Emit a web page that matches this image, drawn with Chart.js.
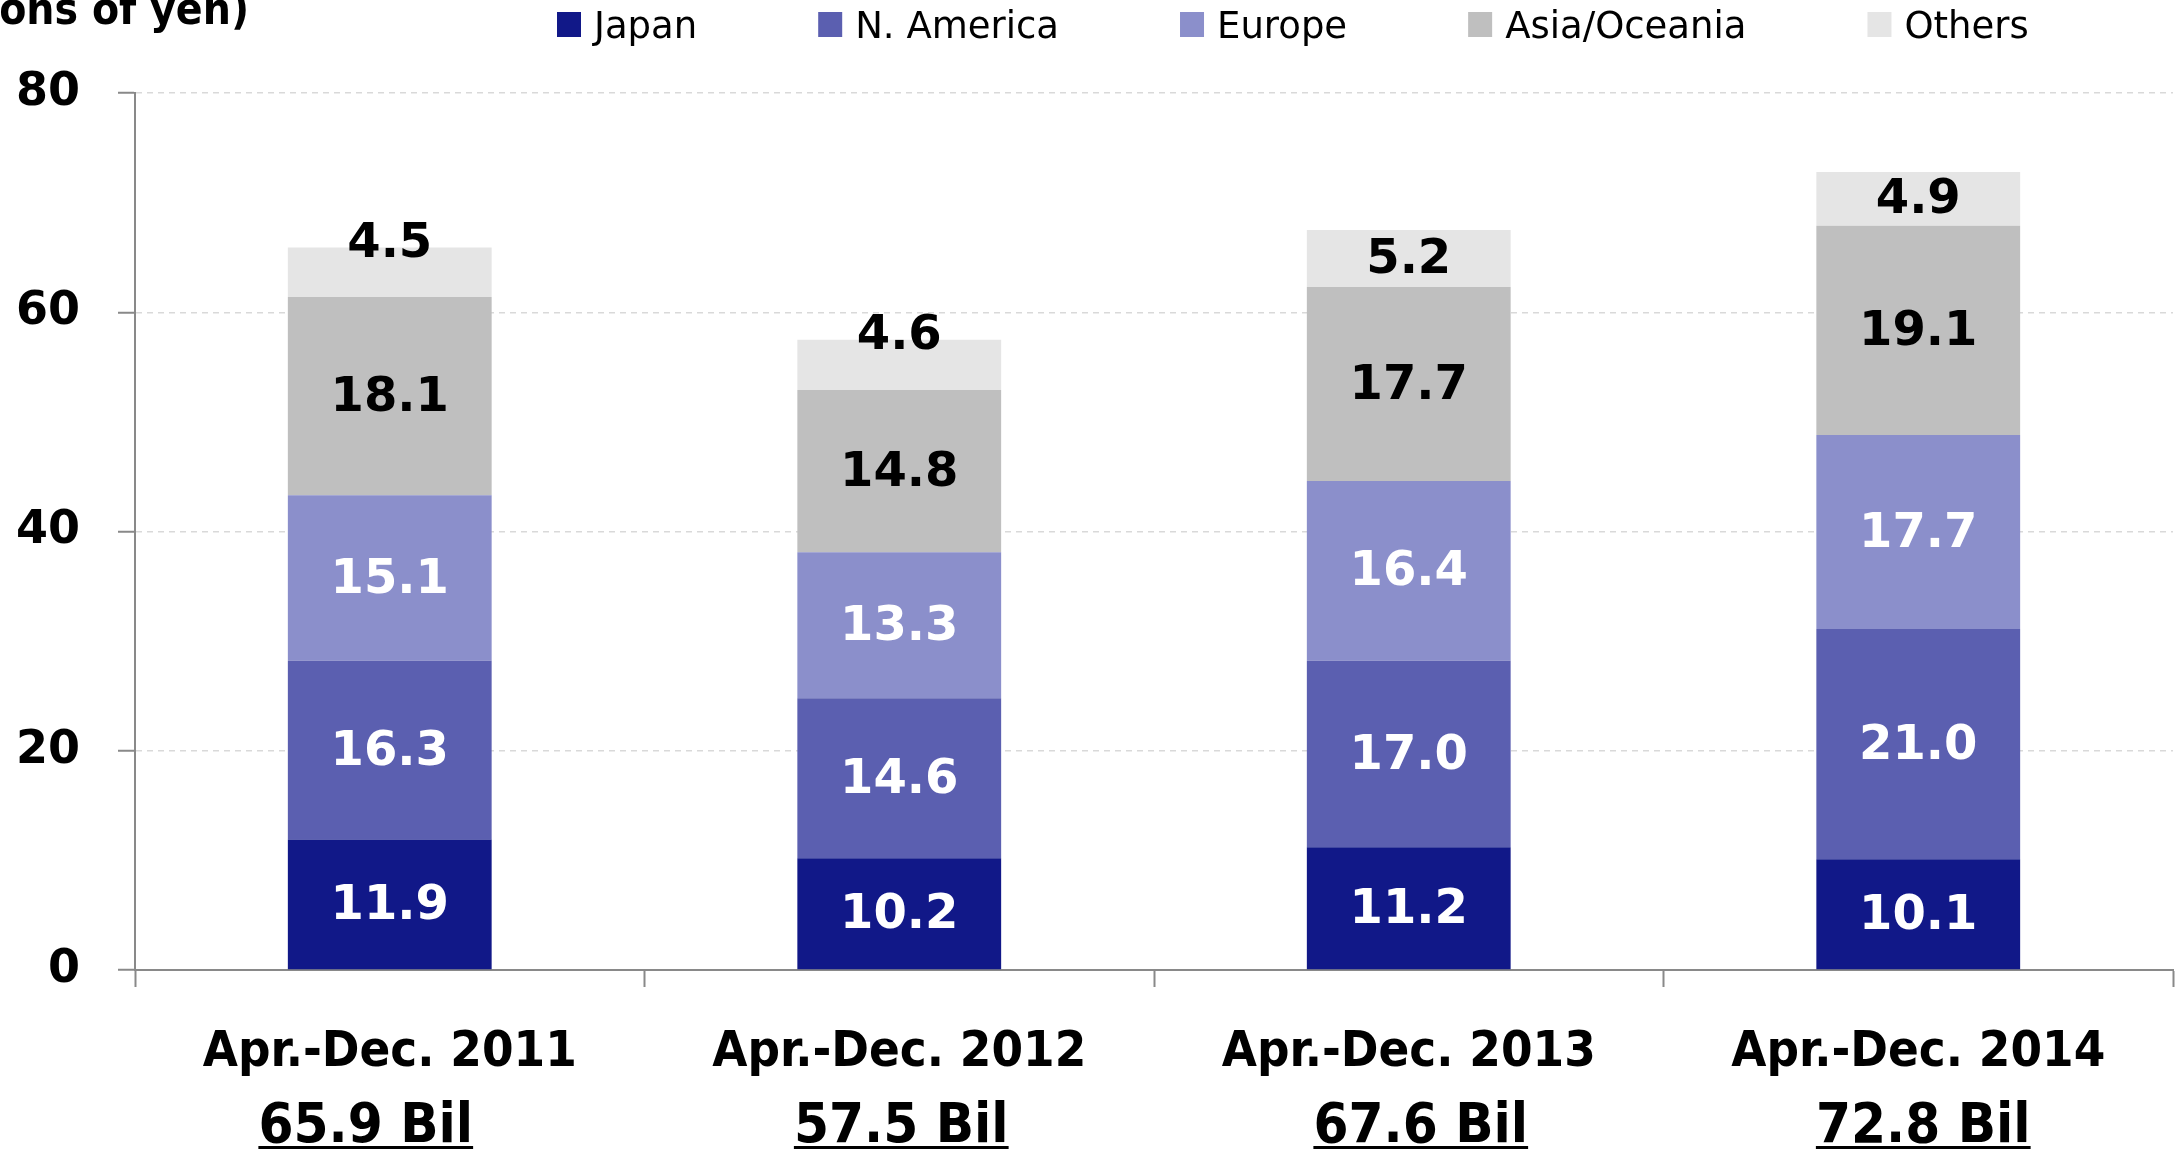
<!DOCTYPE html>
<html>
<head>
<meta charset="utf-8">
<script src="https://cdn.jsdelivr.net/npm/chart.js@4.4.1/dist/chart.umd.min.js"></script>
<style>
  html, body { margin: 0; padding: 0; background: #fff; }
</style>
</head>
<body>
<canvas id="myChart" width="2183" height="1151"></canvas>
<script>
var periods = ["Apr.-Dec. 2011", "Apr.-Dec. 2012", "Apr.-Dec. 2013", "Apr.-Dec. 2014"];
var totals = [65.9, 57.5, 67.6, 72.8];
var regions = ["Japan", "N. America", "Europe", "Asia/Oceania", "Others"];
var japan = [11.9, 10.2, 11.2, 10.1];
var nAmerica = [16.3, 14.6, 17.0, 21.0];
var europe = [15.1, 13.3, 16.4, 17.7];
var asiaOceania = [18.1, 14.8, 17.7, 19.1];
var others = [4.5, 4.6, 5.2, 4.9];
var unitLabel = "(Billions of yen)";

var barColors = ["#111888", "#5b5fb0", "#8b8fcb", "#bfbfbf", "#e5e5e5"];
var labelColors = ["#fff", "#fff", "#fff", "#000", "#000"];
var axisGray = "#898989";
var condensed = '"DejaVu Sans Condensed", "DejaVu Sans", sans-serif';

var series = [japan, nAmerica, europe, asiaOceania, others];
var datasets = series.map(function (values, i) {
  return {
    label: regions[i],
    data: values,
    backgroundColor: barColors[i],
    borderWidth: 0,
    barPercentage: 0.4,
    categoryPercentage: 1.0
  };
});

// numbers inside each stacked segment
var segmentLabels = {
  id: "segmentLabels",
  afterDatasetsDraw: function (chart) {
    var ctx = chart.ctx;
    // a couple of the small top labels sit higher in the original
    var lift = [[], [], [], [], [30, 30, 0, 0]];
    ctx.save();
    ctx.font = "bold 48px 'DejaVu Sans'";
    ctx.textAlign = "center";
    ctx.textBaseline = "middle";
    chart.data.datasets.forEach(function (ds, i) {
      var meta = chart.getDatasetMeta(i);
      meta.data.forEach(function (bar, j) {
        var y = (bar.y + bar.base) / 2 - (lift[i][j] || 0);
        ctx.fillStyle = labelColors[i];
        ctx.fillText(ds.data[j].toFixed(1), bar.x, y + 2);
      });
    });
    ctx.restore();
  }
};

// two line category labels, second line underlined
var categoryLabels = {
  id: "categoryLabels",
  afterDraw: function (chart) {
    var ctx = chart.ctx;
    var xs = chart.scales.x;
    var nudge = [-24, 2, 12, 5];
    ctx.save();
    ctx.fillStyle = "#000";
    ctx.textAlign = "center";
    ctx.textBaseline = "alphabetic";
    periods.forEach(function (p, i) {
      var x = xs.getPixelForValue(i);
      ctx.font = "bold 50.5px " + condensed;
      ctx.fillText(p, x, 1066);
      var t = totals[i].toFixed(1) + " Bil";
      var x2 = x + nudge[i];
      ctx.font = "bold 56px " + condensed;
      ctx.fillText(t, x2, 1142);
      var w = ctx.measureText(t).width;
      ctx.fillRect(x2 - w / 2, 1146, w, 3);
    });
    ctx.restore();
  }
};

// legend row at the top + the clipped unit caption
var topLegend = {
  id: "topLegend",
  afterDraw: function (chart) {
    var ctx = chart.ctx;
    ctx.save();
    ctx.font = "bold 44px " + condensed;
    ctx.fillStyle = "#000";
    ctx.textAlign = "right";
    ctx.textBaseline = "alphabetic";
    ctx.fillText(unitLabel, 249, 24);

    ctx.font = "37px 'DejaVu Sans'";
    ctx.textAlign = "left";
    var x = 557;
    chart.data.datasets.forEach(function (ds) {
      ctx.fillStyle = ds.backgroundColor;
      ctx.fillRect(x, 12, 24, 25);
      ctx.fillStyle = "#000";
      ctx.fillText(ds.label, x + 37, 38);
      x += 37 + ctx.measureText(ds.label).width + 121;
    });
    ctx.restore();
  }
};

new Chart("myChart", {
  type: "bar",
  data: {
    labels: periods,
    datasets: datasets
  },
  options: {
    responsive: false,
    animation: false,
    layout: { padding: { top: 93, right: 10, left: 0, bottom: 0 } },
    plugins: {
      legend: { display: false },
      tooltip: { enabled: false }
    },
    scales: {
      x: {
        stacked: true,
        afterFit: function (s) { s.height = 181; },
        ticks: { display: false },
        grid: {
          drawOnChartArea: false,
          drawTicks: true,
          tickLength: 17,
          tickColor: axisGray,
          tickWidth: 2,
          offset: true
        },
        border: { color: axisGray, width: 2 }
      },
      y: {
        stacked: true,
        min: 0,
        max: 80,
        afterFit: function (s) { s.width = 135; },
        ticks: {
          stepSize: 20,
          padding: 38,
          color: "#000",
          font: { family: "'DejaVu Sans'", size: 46, weight: "bold" }
        },
        grid: {
          color: function (c) { return c.tick && c.tick.value === 0 ? "rgba(0,0,0,0)" : "#d9d9d9"; },
          lineWidth: 1.5,
          tickLength: 17,
          tickColor: axisGray,
          tickWidth: 2
        },
        border: { color: axisGray, width: 2, dash: [6, 5] }
      }
    }
  },
  plugins: [segmentLabels, categoryLabels, topLegend]
});
</script>
</body>
</html>
